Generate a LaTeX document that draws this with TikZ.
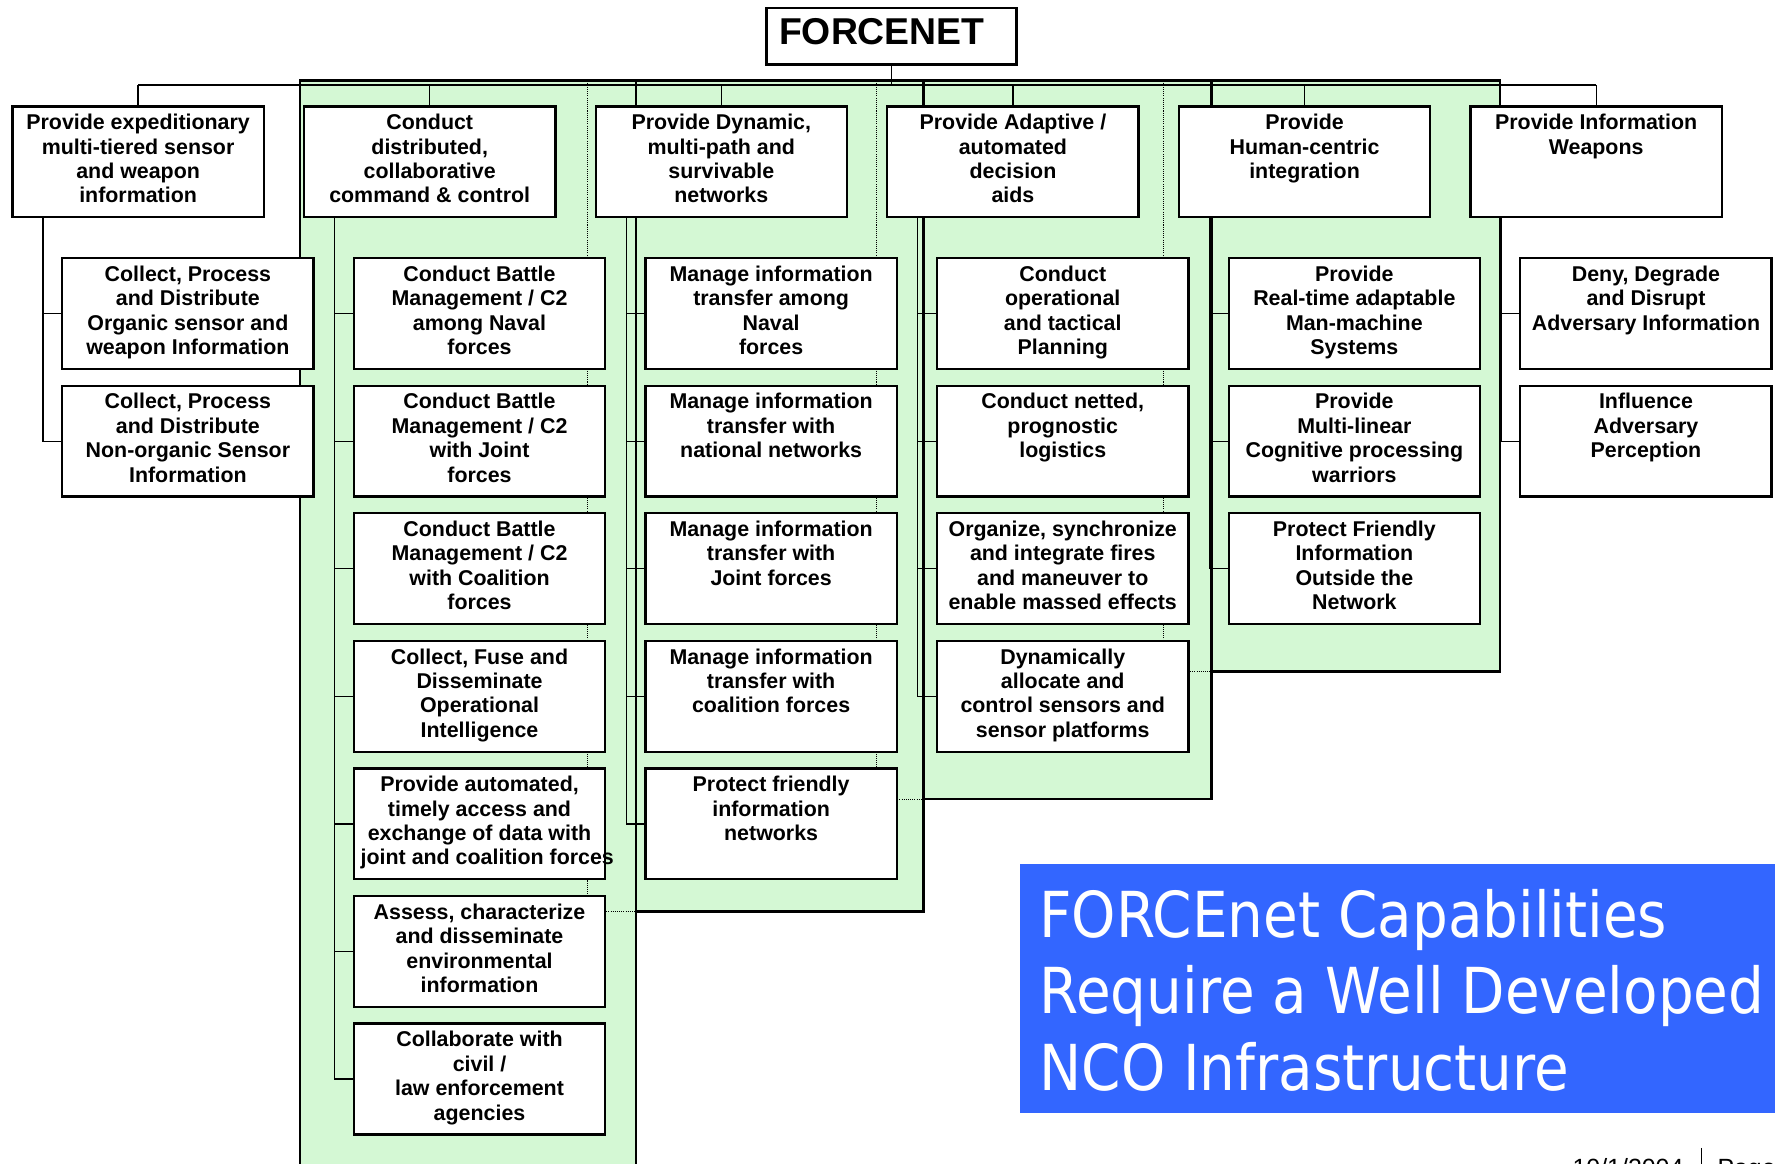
\documentclass[tikz,border=0pt]{standalone}
\usepackage{fontspec}
\setmainfont{Liberation Sans}
\newfontfamily\bannerfont{DejaVu Sans}[FakeStretch=0.89]
\usetikzlibrary{positioning, calc}

\definecolor{panelgreen}{RGB}{212,248,212}
\definecolor{bannerblue}{RGB}{51,102,255}

\newcommand{\boxlines}[1]{\parbox[c][98pt][t]{222pt}{\centering\rule{0pt}{20.5pt}#1}}

\begin{document}
\begin{tikzpicture}[
  x=1pt, y=-1pt,
  capbox/.style = {draw, line width=2pt, fill=white, inner sep=0pt, outer sep=0pt,
                   font=\bfseries\fontsize{18.9}{21.6}\selectfont},
  link/.style   = {line width=1.1pt},
  panel/.style  = {draw, line width=2.2pt, fill=panelgreen},
  hidden/.style = {densely dotted, line width=0.9pt},
  node distance=14.7pt and 35.6pt
]
\useasboundingbox (0,0) rectangle (1568,1028);

  % green panels, back to front
  \draw[panel] (1028,71) rectangle (1325,593);
  \draw[panel] (774,71) rectangle (1070,706);
  \draw[panel] (519,71) rectangle (816,805);
  \draw[panel] (265,71) rectangle (562,1045);

  % panel edges seen through the panel in front
  \draw[hidden] (1028,71) -- (1028,593) -- (1070,593);
  \draw[hidden] (774,71) -- (774,706) -- (816,706);
  \draw[hidden] (519,71) -- (519,805) -- (562,805);

  % FORCENET
  \node[capbox, anchor=north west, font=\bfseries\fontsize{33}{38}\selectfont] (top) at (677,7)
    {\parbox[c][50pt][t]{221pt}{\centering\rule{0pt}{32pt}FORCENET\hspace*{17pt}}};

  % capability areas
  \node[capbox, anchor=north west] (p1) at (11,94)
    {\boxlines{Provide expeditionary\\multi-tiered sensor\\and weapon\\information}};
  \node[capbox, right=of p1] (p2)
    {\boxlines{Conduct\\distributed,\\collaborative\\command \& control}};
  \node[capbox, right=of p2] (p3)
    {\boxlines{Provide Dynamic,\\multi-path and\\survivable\\networks}};
  \node[capbox, right=of p3] (p4)
    {\boxlines{Provide Adaptive /\\automated\\decision\\aids}};
  \node[capbox, right=of p4] (p5)
    {\boxlines{Provide\\Human-centric\\integration}};
  \node[capbox, right=of p5] (p6)
    {\boxlines{Provide Information\\Weapons}};

  % sensor and weapon information
  \node[capbox, below right=36pt and 44pt of p1.south west] (c11)
    {\boxlines{Collect, Process\\and Distribute\\Organic sensor and\\weapon Information}};
  \node[capbox, below=of c11] (c12)
    {\boxlines{Collect, Process\\and Distribute\\Non-organic Sensor\\Information}};

  % command & control
  \node[capbox, below right=36pt and 44pt of p2.south west] (c21)
    {\boxlines{Conduct Battle\\Management / C2\\among Naval\\forces}};
  \node[capbox, below=of c21] (c22)
    {\boxlines{Conduct Battle\\Management / C2\\with Joint\\forces}};
  \node[capbox, below=of c22] (c23)
    {\boxlines{Conduct Battle\\Management / C2\\with Coalition\\forces}};
  \node[capbox, below=of c23] (c24)
    {\boxlines{Collect, Fuse and\\Disseminate\\Operational\\Intelligence}};
  \node[capbox, below=of c24] (c25)
    {\boxlines{Provide automated,\\timely access and\\exchange of data with\\\mbox{\hspace*{6pt}joint and coalition forces}}};
  \node[capbox, below=of c25] (c26)
    {\boxlines{Assess, characterize\\and disseminate\\environmental\\information}};
  \node[capbox, below=of c26] (c27)
    {\boxlines{Collaborate with\\civil /\\law enforcement\\agencies}};

  % networks
  \node[capbox, below right=36pt and 44pt of p3.south west] (c31)
    {\boxlines{Manage information\\transfer among\\Naval\\forces}};
  \node[capbox, below=of c31] (c32)
    {\boxlines{Manage information\\transfer with\\national networks}};
  \node[capbox, below=of c32] (c33)
    {\boxlines{Manage information\\transfer with\\Joint forces}};
  \node[capbox, below=of c33] (c34)
    {\boxlines{Manage information\\transfer with\\coalition forces}};
  \node[capbox, below=of c34] (c35)
    {\boxlines{Protect friendly\\information\\networks}};

  % decision aids
  \node[capbox, below right=36pt and 44pt of p4.south west] (c41)
    {\boxlines{Conduct\\operational\\and tactical\\Planning}};
  \node[capbox, below=of c41] (c42)
    {\boxlines{Conduct netted,\\prognostic\\logistics}};
  \node[capbox, below=of c42] (c43)
    {\boxlines{Organize, synchronize\\and integrate fires\\and maneuver to\\enable massed effects}};
  \node[capbox, below=of c43] (c44)
    {\boxlines{Dynamically\\allocate and\\control sensors and\\sensor platforms}};

  % human-centric integration
  \node[capbox, below right=36pt and 44pt of p5.south west] (c51)
    {\boxlines{Provide\\Real-time adaptable\\Man-machine\\Systems}};
  \node[capbox, below=of c51] (c52)
    {\boxlines{Provide\\Multi-linear\\Cognitive processing\\warriors}};
  \node[capbox, below=of c52] (c53)
    {\boxlines{Protect Friendly\\Information\\Outside the\\Network}};

  % information weapons
  \node[capbox, below right=36pt and 44pt of p6.south west] (c61)
    {\boxlines{Deny, Degrade\\and Disrupt\\Adversary Information}};
  \node[capbox, below=of c61] (c62)
    {\boxlines{Influence\\Adversary\\Perception}};

  % FORCENET -> capability areas
  \coordinate (bus) at ($(top.south)+(0,-18pt)$);
  \draw[link] (top.south) -- (bus);
  \draw[link] (bus -| p1.north) -- (bus -| p6.north);
  \foreach \p in {p1,p2,p3,p4,p5,p6}
    \draw[link] (bus -| \p.north) -- (\p.north);

  % capability areas -> tasks
  \foreach \p/\kids in {p1/{c11,c12}, p2/{c21,c22,c23,c24,c25,c26,c27},
                        p3/{c31,c32,c33,c34,c35}, p4/{c41,c42,c43,c44},
                        p5/{c51,c52,c53}, p6/{c61,c62}}
    \foreach \c in \kids
      \draw[link] ($(\p.south west)+(27pt,0)$) |- (\c.west);

  % banner
  \node[anchor=north west, fill=bannerblue, text=white, inner xsep=17pt, inner ysep=0pt] (banner) at (901,763)
    {\parbox[c][220pt][t]{700pt}{\raggedright\bannerfont\fontsize{56}{67.5}\selectfont
      \rule{0pt}{65pt}FORCEnet Capabilities\\Require a Well Developed\\NCO Infrastructure}};

  % footer
  \node[anchor=base west, inner sep=0pt, font=\fontsize{22}{26}\selectfont] (date) at (1389,1039) {10/1/2004};
  \draw[line width=1.6pt] (1503,1014) -- (1503,1045);
  \node[anchor=base west, inner sep=0pt, font=\fontsize{22}{26}\selectfont] (pagelbl) at (1517,1039) {Page};

\end{tikzpicture}
\end{document}
